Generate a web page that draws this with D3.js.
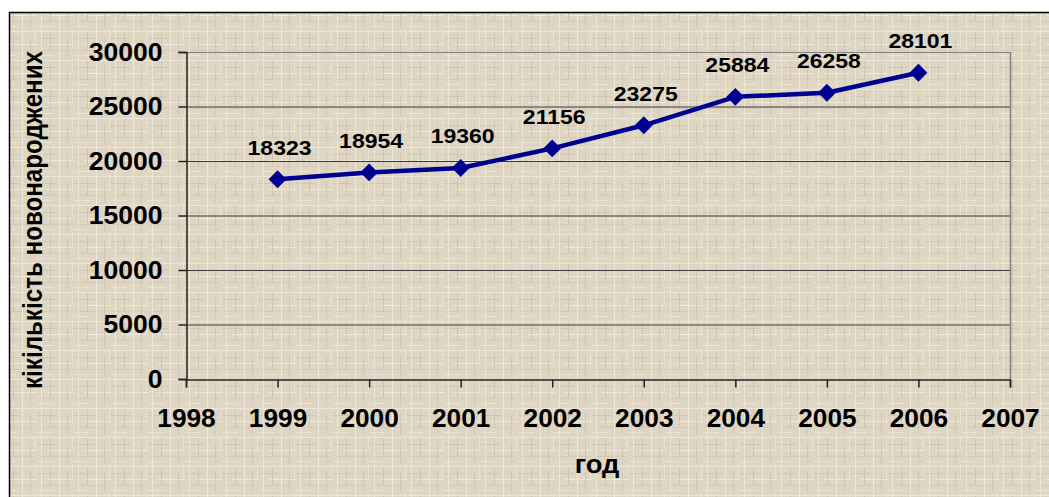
<!DOCTYPE html>
<html><head><meta charset="utf-8">
<script src="https://cdn.jsdelivr.net/npm/d3@7"></script>
<style>html,body{margin:0;padding:0;background:#fff;}svg{display:block;}</style>
</head><body>
<svg id="c" width="1049" height="497"></svg>
<script>
const years = [1999, 2000, 2001, 2002, 2003, 2004, 2005, 2006];
const births = [18323, 18954, 19360, 21156, 23275, 25884, 26258, 28101];
const yTicks = [0, 5000, 10000, 15000, 20000, 25000, 30000];
const xTicks = [1998, 1999, 2000, 2001, 2002, 2003, 2004, 2005, 2006, 2007];
const yTitle = "кікількість новонароджених";
const xTitle = "год";

const svg = d3.select("#c");
const defs = svg.append("defs");
const pat = defs.append("pattern").attr("id","tex").attr("patternUnits","userSpaceOnUse")
  .attr("width",37).attr("height",29);
pat.append("rect").attr("width",37).attr("height",29).attr("fill","#ded5c3");
const hl = [[0,2,37,"#ece6da"],[0,9,20,"#d0c6b3"],[10,15,27,"#efe9de"],[3,21,30,"#d3c9b6"],[0,26,16,"#eae3d6"]];
hl.forEach(([x,y,w,c])=>pat.append("rect").attr("x",x).attr("y",y).attr("width",w).attr("height",1).attr("fill",c));
const vl = [[4,0,29,"#ece5d8"],[13,3,18,"#cec4b1"],[22,0,29,"#eee8dc"],[30,8,21,"#d1c7b4"],[35,0,14,"#e9e2d4"]];
vl.forEach(([x,y,h,c])=>pat.append("rect").attr("x",x).attr("y",y).attr("width",1).attr("height",h).attr("fill",c));

svg.append("rect").attr("x",9.5).attr("y",12.5).attr("width",1060).attr("height",500)
  .attr("fill","url(#tex)").attr("stroke","#000").attr("stroke-width",1.5);

const font = "Arial, 'Liberation Sans', sans-serif";
function stretch(sel, f){
  sel.each(function(){
    const w = this.getComputedTextLength();
    d3.select(this).attr("textLength", w*f).attr("lengthAdjust","spacingAndGlyphs");
  });
}

// partially cut text top-right (as in reference)
svg.append("text").attr("x",1010).attr("y",-8).attr("text-anchor","middle").attr("font-family",font)
  .attr("font-size",22).attr("fill","#000").text("Д");

const x = d3.scaleLinear().domain([1998, 2007]).range([186, 1010]);
const y = d3.scaleLinear().domain([0, 30000]).range([379, 52]);

svg.append("g").selectAll("line").data(yTicks.filter(d=>d>0)).join("line")
  .attr("x1",x(1998)).attr("x2",x(2007)).attr("y1",d=>y(d)+0.5).attr("y2",d=>y(d)+0.5)
  .attr("stroke",d=>d===30000?"#808080":"#3a3a3a").attr("stroke-width",1);
svg.append("line").attr("x1",x(2007)+0.5).attr("x2",x(2007)+0.5).attr("y1",y(30000)).attr("y2",y(0))
  .attr("stroke","#808080").attr("stroke-width",1.5);

const yAxis = d3.axisLeft(y).tickValues(yTicks).tickSize(8).tickPadding(16).tickFormat(d3.format("d"));
const gy = svg.append("g").attr("transform",`translate(${x(1998)+0.5},0)`).call(yAxis);
gy.select(".domain").attr("stroke","#222").attr("stroke-width",1.5);
gy.selectAll(".tick line").attr("stroke","#222").attr("stroke-width",1.5);
gy.selectAll("text").attr("font-family",font).attr("font-size",25).attr("font-weight","bold").attr("fill","#000");
stretch(gy.selectAll("text"), 1.06);

const xAxis = d3.axisBottom(x).tickValues(xTicks).tickSize(8).tickPadding(22).tickFormat(d3.format("d"));
const gx = svg.append("g").attr("transform",`translate(0,${y(0)+0.5})`).call(xAxis);
gx.select(".domain").attr("stroke","#222").attr("stroke-width",1.5);
gx.selectAll(".tick line").attr("stroke","#222").attr("stroke-width",1.5);
gx.selectAll("text").attr("font-family",font).attr("font-size",25).attr("font-weight","bold").attr("fill","#000");
stretch(gx.selectAll("text"), 1.05);

const line = d3.line().x((d,i)=>x(years[i])).y(d=>y(d));
svg.append("path").datum(births).attr("d",line).attr("fill","none")
  .attr("stroke","#000090").attr("stroke-width",4.5).attr("stroke-linejoin","round");
svg.append("g").selectAll("path").data(births).join("path")
  .attr("d",d3.symbol().type(d3.symbolSquare).size(160))
  .attr("transform",(d,i)=>`translate(${x(years[i])},${y(d)}) rotate(45)`)
  .attr("fill","#000090");

const lbl = svg.append("g").selectAll("text").data(births).join("text")
  .attr("x",(d,i)=>x(years[i])+2).attr("y",d=>y(d)-24.5)
  .attr("text-anchor","middle").attr("font-family",font).attr("font-size",20).attr("font-weight","bold")
  .attr("fill","#000").text(d=>d);
stretch(lbl, 1.15);

const xt = svg.append("text").attr("x",597).attr("y",473).attr("text-anchor","middle")
  .attr("font-family",font).attr("font-size",26).attr("font-weight","bold").text(xTitle);
stretch(xt, 1.05);
svg.append("text").attr("transform","translate(42,220) scale(1.12,1) rotate(-90)").attr("text-anchor","middle")
  .attr("font-family",font).attr("font-size",24.5).attr("font-weight","bold")
  .attr("textLength",338).attr("lengthAdjust","spacingAndGlyphs").text(yTitle);
</script>
</body></html>
